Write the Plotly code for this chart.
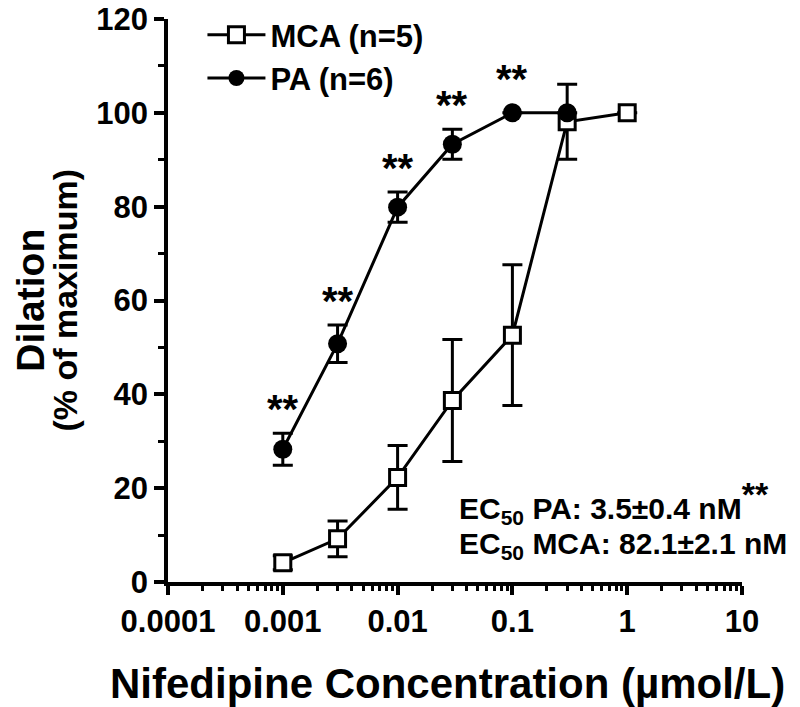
import math
import plotly.graph_objects as go

# ---- data ----
conc = [0.001, 0.003, 0.01, 0.03, 0.1, 0.3, 1]
mca_mean = [4.1, 9.2, 22.3, 38.7, 52.6, 98.1, 100]
mca_sem = [1.5, 3.8, 6.8, 13.0, 15.0, 8.0, 0]

pa_conc = [0.001, 0.003, 0.01, 0.03, 0.1, 0.3]
pa_mean = [28.3, 50.8, 79.9, 93.3, 100, 100]
pa_sem = [3.4, 4.0, 3.2, 3.2, 0, 0]
pa_sig = ["**", "**", "**", "**", "**", ""]

x_tickvals = [0.0001, 0.001, 0.01, 0.1, 1, 10]
x_ticktext = ["0.0001", "0.001", "0.01", "0.1", "1", "10"]
ec50_lines = ["EC<sub>50</sub> PA: 3.5\u00b10.4 nM<sup><span style='font-size:34px'>**</span></sup>",
              "EC<sub>50</sub> MCA: 82.1\u00b12.1 nM"]
x_title = "Nifedipine Concentration (\u00b5mol/L)"

FONT = "Liberation Sans, Arial, sans-serif"

fig = go.Figure()
fig.add_trace(go.Scatter(
    x=conc, y=mca_mean, name="MCA (n=5)", mode="lines+markers",
    line=dict(color="black", width=3),
    marker=dict(symbol="square", size=16, color="white",
                line=dict(color="black", width=3)),
    error_y=dict(type="data", array=mca_sem, color="black", thickness=3, width=10),
))
fig.add_trace(go.Scatter(
    x=pa_conc, y=pa_mean, name="PA (n=6)", mode="lines+markers",
    line=dict(color="black", width=3),
    marker=dict(symbol="circle", size=19, color="black",
                line=dict(color="black", width=0)),
    error_y=dict(type="data", array=pa_sem, color="black", thickness=3, width=10),
))

# significance stars
for xv, m, e, s in zip(pa_conc, pa_mean, pa_sem, pa_sig):
    if s:
        fig.add_annotation(x=math.log10(xv), y=m + max(e, 2), xref="x", yref="y",
                           text=s, showarrow=False, yanchor="bottom",
                           yshift=0, xanchor="center",
                           font=dict(family=FONT, size=40, color="black", weight="bold"))

# EC50 text
for i, t in enumerate(ec50_lines):
    fig.add_annotation(x=0.504, y=[0.142, 0.064][i], xref="paper", yref="paper",
                       text=t, showarrow=False, xanchor="left", yanchor="middle",
                       font=dict(family=FONT, size=30, color="black", weight="bold"))

# y title (two lines)
fig.add_annotation(x=-0.24, y=0.5, xref="paper", yref="paper", text="Dilation",
                   textangle=-90, showarrow=False, xanchor="center", yanchor="middle",
                   font=dict(family=FONT, size=39, color="black", weight="bold"))
fig.add_annotation(x=-0.181, y=0.5, xref="paper", yref="paper", text="(% of maximum)",
                   textangle=-90, showarrow=False, xanchor="center", yanchor="middle",
                   font=dict(family=FONT, size=34, color="black", weight="bold"))
# x title
fig.add_annotation(x=0.4865, y=-0.18, xref="paper", yref="paper", text=x_title,
                   showarrow=False, xanchor="center", yanchor="middle",
                   font=dict(family=FONT, size=42, color="black", weight="bold"))

minor_x = [k * 10 ** e for e in range(-4, 1) for k in range(2, 10)]

fig.update_layout(
    width=792, height=699,
    margin=dict(l=160, r=58, t=0, b=125),
    plot_bgcolor="white", paper_bgcolor="white",
    font=dict(family=FONT, color="black"),
    showlegend=True,
    legend=dict(x=0.06, y=1.0195, xanchor="left", yanchor="top",
                bgcolor="rgba(0,0,0,0)", itemwidth=58,
                font=dict(family=FONT, size=31, color="black", weight="bold"),
                tracegroupgap=0),
    xaxis=dict(
        type="log", range=[-4, 1], automargin=False,
        tickmode="array", tickvals=x_tickvals, ticktext=x_ticktext,
        ticks="outside", ticklen=9, tickwidth=3.5, tickcolor="black",
        minor=dict(tickmode="array", tickvals=minor_x, ticks="outside",
                   ticklen=5, tickwidth=3, tickcolor="black", showgrid=False),
        showline=True, linewidth=3.5, linecolor="black",
        showgrid=False, zeroline=False,
        tickfont=dict(family=FONT, size=31, color="black", weight="bold"),
    ),
    yaxis=dict(
        range=[0, 120], tickmode="linear", tick0=0, dtick=20, automargin=False,
        ticks="outside", ticklen=10, tickwidth=3.5, tickcolor="black",
        ticklabeloverflow="allow",
        minor=dict(dtick=10, ticks="outside", ticklen=6, tickwidth=3,
                   tickcolor="black", showgrid=False),
        showline=True, linewidth=3.5, linecolor="black",
        showgrid=False, zeroline=False,
        tickfont=dict(family=FONT, size=31, color="black", weight="bold"),
    ),
)

fig.write_html("out.html")
